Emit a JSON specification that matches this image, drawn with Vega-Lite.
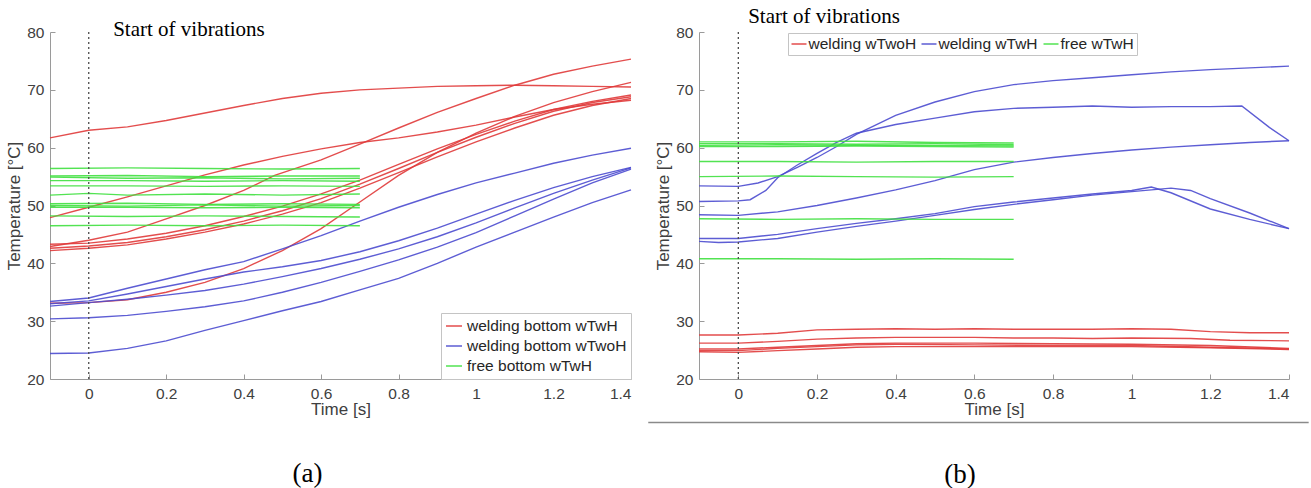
{
  "$schema": "https://vega.github.io/schema/vega-lite/v6.json",
  "background": "white",
  "padding": {"left": 5, "top": 6, "right": 0, "bottom": 0},
  "config": {
    "view": {"stroke": null},
    "font": "Liberation Sans",
    "style": {"guide-title": {"fontSize": 17, "fontWeight": "normal", "font": "Liberation Sans", "fill": "#404040"}, "guide-label": {"fontSize": 15.5, "font": "Liberation Sans", "fill": "#404040"}},
    "axis": {"domainColor": "#9a9a9a", "tickColor": "#9a9a9a", "tickSize": -5, "labelColor": "#404040", "labelFont": "Liberation Sans", "labelFontSize": 15.5, "titleFont": "Liberation Sans", "titleFontSize": 17, "titleFontWeight": "normal", "titleColor": "#404040", "grid": false},
    "axisX": {"labelPadding": 12, "titlePadding": 0},
    "axisY": {"labelPadding": 11, "titlePadding": 3},
    "legend": {"strokeColor": "#c4c4c4", "fillColor": "white", "padding": 4, "labelFont": "Liberation Sans", "labelFontSize": 15.5, "labelColor": "#262626", "labelLimit": 400, "symbolSize": 256, "symbolStrokeWidth": 1.5, "labelOffset": 4, "rowPadding": 2, "columnPadding": 2, "title": null}
  },
  "spacing": 13,
  "resolve": {"scale": {"color": "independent"}, "legend": {"color": "independent"}},
  "datasets": {
    "a": [
      {"s":"r1","g":"welding bottom wTwH","t":-0.1,"v":61.7},{"s":"r1","g":"welding bottom wTwH","t":0,"v":63.0},{"s":"r1","g":"welding bottom wTwH","t":0.1,"v":63.6},{"s":"r1","g":"welding bottom wTwH","t":0.2,"v":64.7},{"s":"r1","g":"welding bottom wTwH","t":0.3,"v":66.0},{"s":"r1","g":"welding bottom wTwH","t":0.4,"v":67.3},{"s":"r1","g":"welding bottom wTwH","t":0.5,"v":68.5},{"s":"r1","g":"welding bottom wTwH","t":0.6,"v":69.4},{"s":"r1","g":"welding bottom wTwH","t":0.7,"v":70.0},{"s":"r1","g":"welding bottom wTwH","t":0.8,"v":70.3},{"s":"r1","g":"welding bottom wTwH","t":0.9,"v":70.6},{"s":"r1","g":"welding bottom wTwH","t":1.0,"v":70.7},{"s":"r1","g":"welding bottom wTwH","t":1.1,"v":70.8},{"s":"r1","g":"welding bottom wTwH","t":1.2,"v":70.7},{"s":"r1","g":"welding bottom wTwH","t":1.3,"v":70.6},{"s":"r1","g":"welding bottom wTwH","t":1.4,"v":70.5},
      {"s":"r2","g":"welding bottom wTwH","t":-0.1,"v":47.9},{"s":"r2","g":"welding bottom wTwH","t":0,"v":49.7},{"s":"r2","g":"welding bottom wTwH","t":0.1,"v":51.5},{"s":"r2","g":"welding bottom wTwH","t":0.2,"v":53.4},{"s":"r2","g":"welding bottom wTwH","t":0.3,"v":55.3},{"s":"r2","g":"welding bottom wTwH","t":0.4,"v":57.0},{"s":"r2","g":"welding bottom wTwH","t":0.5,"v":58.5},{"s":"r2","g":"welding bottom wTwH","t":0.6,"v":59.8},{"s":"r2","g":"welding bottom wTwH","t":0.7,"v":60.9},{"s":"r2","g":"welding bottom wTwH","t":0.8,"v":61.7},{"s":"r2","g":"welding bottom wTwH","t":0.9,"v":62.7},{"s":"r2","g":"welding bottom wTwH","t":1.0,"v":63.9},{"s":"r2","g":"welding bottom wTwH","t":1.1,"v":65.3},{"s":"r2","g":"welding bottom wTwH","t":1.2,"v":66.6},{"s":"r2","g":"welding bottom wTwH","t":1.3,"v":67.5},{"s":"r2","g":"welding bottom wTwH","t":1.4,"v":68.2},
      {"s":"r3","g":"welding bottom wTwH","t":-0.1,"v":42.9},{"s":"r3","g":"welding bottom wTwH","t":0,"v":44.0},{"s":"r3","g":"welding bottom wTwH","t":0.1,"v":45.4},{"s":"r3","g":"welding bottom wTwH","t":0.2,"v":47.7},{"s":"r3","g":"welding bottom wTwH","t":0.3,"v":50.0},{"s":"r3","g":"welding bottom wTwH","t":0.4,"v":52.6},{"s":"r3","g":"welding bottom wTwH","t":0.48,"v":55.2},{"s":"r3","g":"welding bottom wTwH","t":0.6,"v":57.9},{"s":"r3","g":"welding bottom wTwH","t":0.7,"v":60.6},{"s":"r3","g":"welding bottom wTwH","t":0.8,"v":63.4},{"s":"r3","g":"welding bottom wTwH","t":0.9,"v":66.1},{"s":"r3","g":"welding bottom wTwH","t":1.0,"v":68.5},{"s":"r3","g":"welding bottom wTwH","t":1.1,"v":70.8},{"s":"r3","g":"welding bottom wTwH","t":1.2,"v":72.7},{"s":"r3","g":"welding bottom wTwH","t":1.3,"v":74.1},{"s":"r3","g":"welding bottom wTwH","t":1.4,"v":75.3},
      {"s":"r4","g":"welding bottom wTwH","t":-0.1,"v":33.1},{"s":"r4","g":"welding bottom wTwH","t":0,"v":33.2},{"s":"r4","g":"welding bottom wTwH","t":0.1,"v":33.7},{"s":"r4","g":"welding bottom wTwH","t":0.2,"v":35.0},{"s":"r4","g":"welding bottom wTwH","t":0.3,"v":36.7},{"s":"r4","g":"welding bottom wTwH","t":0.4,"v":39.1},{"s":"r4","g":"welding bottom wTwH","t":0.5,"v":42.2},{"s":"r4","g":"welding bottom wTwH","t":0.6,"v":46.0},{"s":"r4","g":"welding bottom wTwH","t":0.7,"v":50.6},{"s":"r4","g":"welding bottom wTwH","t":0.8,"v":55.2},{"s":"r4","g":"welding bottom wTwH","t":0.9,"v":59.2},{"s":"r4","g":"welding bottom wTwH","t":1.0,"v":62.5},{"s":"r4","g":"welding bottom wTwH","t":1.1,"v":65.4},{"s":"r4","g":"welding bottom wTwH","t":1.2,"v":67.8},{"s":"r4","g":"welding bottom wTwH","t":1.3,"v":69.7},{"s":"r4","g":"welding bottom wTwH","t":1.4,"v":71.3},
      {"s":"r5","g":"welding bottom wTwH","t":-0.1,"v":43.3},{"s":"r5","g":"welding bottom wTwH","t":0,"v":43.5},{"s":"r5","g":"welding bottom wTwH","t":0.1,"v":44.2},{"s":"r5","g":"welding bottom wTwH","t":0.2,"v":45.2},{"s":"r5","g":"welding bottom wTwH","t":0.3,"v":46.5},{"s":"r5","g":"welding bottom wTwH","t":0.4,"v":48.1},{"s":"r5","g":"welding bottom wTwH","t":0.5,"v":49.9},{"s":"r5","g":"welding bottom wTwH","t":0.6,"v":52.0},{"s":"r5","g":"welding bottom wTwH","t":0.7,"v":54.4},{"s":"r5","g":"welding bottom wTwH","t":0.8,"v":57.1},{"s":"r5","g":"welding bottom wTwH","t":0.9,"v":59.8},{"s":"r5","g":"welding bottom wTwH","t":1.0,"v":62.3},{"s":"r5","g":"welding bottom wTwH","t":1.1,"v":64.6},{"s":"r5","g":"welding bottom wTwH","t":1.2,"v":66.6},{"s":"r5","g":"welding bottom wTwH","t":1.3,"v":68.0},{"s":"r5","g":"welding bottom wTwH","t":1.4,"v":69.1},
      {"s":"r6","g":"welding bottom wTwH","t":-0.1,"v":42.6},{"s":"r6","g":"welding bottom wTwH","t":0,"v":43.0},{"s":"r6","g":"welding bottom wTwH","t":0.1,"v":43.6},{"s":"r6","g":"welding bottom wTwH","t":0.2,"v":44.6},{"s":"r6","g":"welding bottom wTwH","t":0.3,"v":45.8},{"s":"r6","g":"welding bottom wTwH","t":0.4,"v":47.3},{"s":"r6","g":"welding bottom wTwH","t":0.5,"v":49.1},{"s":"r6","g":"welding bottom wTwH","t":0.6,"v":51.2},{"s":"r6","g":"welding bottom wTwH","t":0.7,"v":53.7},{"s":"r6","g":"welding bottom wTwH","t":0.8,"v":56.4},{"s":"r6","g":"welding bottom wTwH","t":0.9,"v":59.2},{"s":"r6","g":"welding bottom wTwH","t":1.0,"v":61.8},{"s":"r6","g":"welding bottom wTwH","t":1.1,"v":64.2},{"s":"r6","g":"welding bottom wTwH","t":1.2,"v":66.3},{"s":"r6","g":"welding bottom wTwH","t":1.3,"v":67.8},{"s":"r6","g":"welding bottom wTwH","t":1.4,"v":68.8},
      {"s":"r7","g":"welding bottom wTwH","t":-0.1,"v":42.2},{"s":"r7","g":"welding bottom wTwH","t":0,"v":42.6},{"s":"r7","g":"welding bottom wTwH","t":0.1,"v":43.2},{"s":"r7","g":"welding bottom wTwH","t":0.2,"v":44.2},{"s":"r7","g":"welding bottom wTwH","t":0.3,"v":45.4},{"s":"r7","g":"welding bottom wTwH","t":0.4,"v":46.8},{"s":"r7","g":"welding bottom wTwH","t":0.5,"v":48.5},{"s":"r7","g":"welding bottom wTwH","t":0.6,"v":50.5},{"s":"r7","g":"welding bottom wTwH","t":0.7,"v":53.0},{"s":"r7","g":"welding bottom wTwH","t":0.8,"v":55.7},{"s":"r7","g":"welding bottom wTwH","t":0.9,"v":58.4},{"s":"r7","g":"welding bottom wTwH","t":1.0,"v":61.0},{"s":"r7","g":"welding bottom wTwH","t":1.1,"v":63.4},{"s":"r7","g":"welding bottom wTwH","t":1.2,"v":65.6},{"s":"r7","g":"welding bottom wTwH","t":1.3,"v":67.3},{"s":"r7","g":"welding bottom wTwH","t":1.4,"v":68.5},
      {"s":"b1","g":"welding bottom wTwoH","t":-0.1,"v":33.4},{"s":"b1","g":"welding bottom wTwoH","t":0,"v":34.0},{"s":"b1","g":"welding bottom wTwoH","t":0.1,"v":35.7},{"s":"b1","g":"welding bottom wTwoH","t":0.2,"v":37.3},{"s":"b1","g":"welding bottom wTwoH","t":0.3,"v":38.9},{"s":"b1","g":"welding bottom wTwoH","t":0.4,"v":40.3},{"s":"b1","g":"welding bottom wTwoH","t":0.5,"v":42.5},{"s":"b1","g":"welding bottom wTwoH","t":0.6,"v":44.8},{"s":"b1","g":"welding bottom wTwoH","t":0.7,"v":47.3},{"s":"b1","g":"welding bottom wTwoH","t":0.8,"v":49.7},{"s":"b1","g":"welding bottom wTwoH","t":0.9,"v":51.9},{"s":"b1","g":"welding bottom wTwoH","t":1.0,"v":53.9},{"s":"b1","g":"welding bottom wTwoH","t":1.1,"v":55.6},{"s":"b1","g":"welding bottom wTwoH","t":1.2,"v":57.3},{"s":"b1","g":"welding bottom wTwoH","t":1.3,"v":58.7},{"s":"b1","g":"welding bottom wTwoH","t":1.4,"v":59.9},
      {"s":"b2","g":"welding bottom wTwoH","t":-0.1,"v":33.0},{"s":"b2","g":"welding bottom wTwoH","t":0,"v":33.5},{"s":"b2","g":"welding bottom wTwoH","t":0.1,"v":34.7},{"s":"b2","g":"welding bottom wTwoH","t":0.2,"v":36.0},{"s":"b2","g":"welding bottom wTwoH","t":0.3,"v":37.3},{"s":"b2","g":"welding bottom wTwoH","t":0.4,"v":38.5},{"s":"b2","g":"welding bottom wTwoH","t":0.5,"v":39.4},{"s":"b2","g":"welding bottom wTwoH","t":0.6,"v":40.5},{"s":"b2","g":"welding bottom wTwoH","t":0.7,"v":42.0},{"s":"b2","g":"welding bottom wTwoH","t":0.8,"v":43.9},{"s":"b2","g":"welding bottom wTwoH","t":0.9,"v":46.1},{"s":"b2","g":"welding bottom wTwoH","t":1.0,"v":48.5},{"s":"b2","g":"welding bottom wTwoH","t":1.1,"v":50.9},{"s":"b2","g":"welding bottom wTwoH","t":1.2,"v":53.1},{"s":"b2","g":"welding bottom wTwoH","t":1.3,"v":55.0},{"s":"b2","g":"welding bottom wTwoH","t":1.4,"v":56.6},
      {"s":"b3","g":"welding bottom wTwoH","t":-0.1,"v":32.6},{"s":"b3","g":"welding bottom wTwoH","t":0,"v":33.2},{"s":"b3","g":"welding bottom wTwoH","t":0.1,"v":33.8},{"s":"b3","g":"welding bottom wTwoH","t":0.2,"v":34.5},{"s":"b3","g":"welding bottom wTwoH","t":0.3,"v":35.3},{"s":"b3","g":"welding bottom wTwoH","t":0.4,"v":36.4},{"s":"b3","g":"welding bottom wTwoH","t":0.5,"v":37.7},{"s":"b3","g":"welding bottom wTwoH","t":0.6,"v":39.1},{"s":"b3","g":"welding bottom wTwoH","t":0.7,"v":40.7},{"s":"b3","g":"welding bottom wTwoH","t":0.8,"v":42.5},{"s":"b3","g":"welding bottom wTwoH","t":0.9,"v":44.6},{"s":"b3","g":"welding bottom wTwoH","t":1.0,"v":47.0},{"s":"b3","g":"welding bottom wTwoH","t":1.1,"v":49.6},{"s":"b3","g":"welding bottom wTwoH","t":1.2,"v":52.1},{"s":"b3","g":"welding bottom wTwoH","t":1.3,"v":54.4},{"s":"b3","g":"welding bottom wTwoH","t":1.4,"v":56.5},
      {"s":"b4","g":"welding bottom wTwoH","t":-0.1,"v":30.4},{"s":"b4","g":"welding bottom wTwoH","t":0,"v":30.6},{"s":"b4","g":"welding bottom wTwoH","t":0.1,"v":31.0},{"s":"b4","g":"welding bottom wTwoH","t":0.2,"v":31.7},{"s":"b4","g":"welding bottom wTwoH","t":0.3,"v":32.5},{"s":"b4","g":"welding bottom wTwoH","t":0.4,"v":33.5},{"s":"b4","g":"welding bottom wTwoH","t":0.5,"v":35.0},{"s":"b4","g":"welding bottom wTwoH","t":0.6,"v":36.7},{"s":"b4","g":"welding bottom wTwoH","t":0.7,"v":38.6},{"s":"b4","g":"welding bottom wTwoH","t":0.8,"v":40.6},{"s":"b4","g":"welding bottom wTwoH","t":0.9,"v":42.8},{"s":"b4","g":"welding bottom wTwoH","t":1.0,"v":45.3},{"s":"b4","g":"welding bottom wTwoH","t":1.1,"v":48.2},{"s":"b4","g":"welding bottom wTwoH","t":1.2,"v":51.1},{"s":"b4","g":"welding bottom wTwoH","t":1.3,"v":53.9},{"s":"b4","g":"welding bottom wTwoH","t":1.4,"v":56.3},
      {"s":"b5","g":"welding bottom wTwoH","t":-0.1,"v":24.4},{"s":"b5","g":"welding bottom wTwoH","t":0,"v":24.5},{"s":"b5","g":"welding bottom wTwoH","t":0.1,"v":25.3},{"s":"b5","g":"welding bottom wTwoH","t":0.2,"v":26.6},{"s":"b5","g":"welding bottom wTwoH","t":0.3,"v":28.4},{"s":"b5","g":"welding bottom wTwoH","t":0.4,"v":30.1},{"s":"b5","g":"welding bottom wTwoH","t":0.5,"v":31.8},{"s":"b5","g":"welding bottom wTwoH","t":0.6,"v":33.4},{"s":"b5","g":"welding bottom wTwoH","t":0.7,"v":35.4},{"s":"b5","g":"welding bottom wTwoH","t":0.8,"v":37.4},{"s":"b5","g":"welding bottom wTwoH","t":0.9,"v":40.0},{"s":"b5","g":"welding bottom wTwoH","t":1.0,"v":42.8},{"s":"b5","g":"welding bottom wTwoH","t":1.1,"v":45.4},{"s":"b5","g":"welding bottom wTwoH","t":1.2,"v":48.0},{"s":"b5","g":"welding bottom wTwoH","t":1.3,"v":50.5},{"s":"b5","g":"welding bottom wTwoH","t":1.4,"v":52.7},
      {"s":"g1","g":"free bottom wTwH","t":-0.1,"v":56.4},{"s":"g1","g":"free bottom wTwH","t":0.1,"v":56.5},{"s":"g1","g":"free bottom wTwH","t":0.3,"v":56.4},{"s":"g1","g":"free bottom wTwH","t":0.5,"v":56.3},{"s":"g1","g":"free bottom wTwH","t":0.7,"v":56.4},
      {"s":"g2","g":"free bottom wTwH","t":-0.1,"v":55.1},{"s":"g2","g":"free bottom wTwH","t":0.1,"v":55.2},{"s":"g2","g":"free bottom wTwH","t":0.3,"v":55.0},{"s":"g2","g":"free bottom wTwH","t":0.5,"v":55.1},{"s":"g2","g":"free bottom wTwH","t":0.7,"v":55.1},
      {"s":"g3","g":"free bottom wTwH","t":-0.1,"v":54.9},{"s":"g3","g":"free bottom wTwH","t":0.1,"v":54.7},{"s":"g3","g":"free bottom wTwH","t":0.3,"v":54.8},{"s":"g3","g":"free bottom wTwH","t":0.5,"v":54.6},{"s":"g3","g":"free bottom wTwH","t":0.7,"v":54.7},
      {"s":"g4","g":"free bottom wTwH","t":-0.1,"v":54.3},{"s":"g4","g":"free bottom wTwH","t":0.1,"v":54.3},{"s":"g4","g":"free bottom wTwH","t":0.3,"v":54.2},{"s":"g4","g":"free bottom wTwH","t":0.5,"v":54.3},{"s":"g4","g":"free bottom wTwH","t":0.7,"v":54.2},
      {"s":"g5","g":"free bottom wTwH","t":-0.1,"v":53.4},{"s":"g5","g":"free bottom wTwH","t":0.1,"v":53.4},{"s":"g5","g":"free bottom wTwH","t":0.3,"v":53.3},{"s":"g5","g":"free bottom wTwH","t":0.5,"v":53.4},{"s":"g5","g":"free bottom wTwH","t":0.7,"v":53.3},
      {"s":"g6","g":"free bottom wTwH","t":-0.1,"v":51.8},{"s":"g6","g":"free bottom wTwH","t":0.0,"v":52.1},{"s":"g6","g":"free bottom wTwH","t":0.1,"v":51.8},{"s":"g6","g":"free bottom wTwH","t":0.3,"v":52.0},{"s":"g6","g":"free bottom wTwH","t":0.5,"v":51.8},{"s":"g6","g":"free bottom wTwH","t":0.7,"v":52.0},
      {"s":"g7","g":"free bottom wTwH","t":-0.1,"v":50.3},{"s":"g7","g":"free bottom wTwH","t":0.1,"v":50.4},{"s":"g7","g":"free bottom wTwH","t":0.3,"v":50.2},{"s":"g7","g":"free bottom wTwH","t":0.5,"v":50.3},{"s":"g7","g":"free bottom wTwH","t":0.7,"v":50.2},
      {"s":"g8","g":"free bottom wTwH","t":-0.1,"v":50.0},{"s":"g8","g":"free bottom wTwH","t":0.1,"v":49.9},{"s":"g8","g":"free bottom wTwH","t":0.3,"v":50.1},{"s":"g8","g":"free bottom wTwH","t":0.5,"v":49.9},{"s":"g8","g":"free bottom wTwH","t":0.7,"v":50.0},
      {"s":"g9","g":"free bottom wTwH","t":-0.1,"v":49.7},{"s":"g9","g":"free bottom wTwH","t":0.1,"v":49.7},{"s":"g9","g":"free bottom wTwH","t":0.3,"v":49.6},{"s":"g9","g":"free bottom wTwH","t":0.5,"v":49.7},{"s":"g9","g":"free bottom wTwH","t":0.7,"v":49.6},
      {"s":"g10","g":"free bottom wTwH","t":-0.1,"v":48.2},{"s":"g10","g":"free bottom wTwH","t":0.1,"v":48.1},{"s":"g10","g":"free bottom wTwH","t":0.3,"v":48.2},{"s":"g10","g":"free bottom wTwH","t":0.5,"v":48.1},{"s":"g10","g":"free bottom wTwH","t":0.7,"v":48.0},
      {"s":"g11","g":"free bottom wTwH","t":-0.1,"v":46.5},{"s":"g11","g":"free bottom wTwH","t":0.1,"v":46.6},{"s":"g11","g":"free bottom wTwH","t":0.3,"v":46.5},{"s":"g11","g":"free bottom wTwH","t":0.5,"v":46.6},{"s":"g11","g":"free bottom wTwH","t":0.7,"v":46.5}
    ],
    "b": [
      {"s":"r1","g":"welding wTwoH","t":-0.1,"v":27.6},{"s":"r1","g":"welding wTwoH","t":0,"v":27.6},{"s":"r1","g":"welding wTwoH","t":0.1,"v":27.9},{"s":"r1","g":"welding wTwoH","t":0.2,"v":28.5},{"s":"r1","g":"welding wTwoH","t":0.3,"v":28.6},{"s":"r1","g":"welding wTwoH","t":0.4,"v":28.7},{"s":"r1","g":"welding wTwoH","t":0.5,"v":28.6},{"s":"r1","g":"welding wTwoH","t":0.6,"v":28.7},{"s":"r1","g":"welding wTwoH","t":0.7,"v":28.6},{"s":"r1","g":"welding wTwoH","t":0.8,"v":28.6},{"s":"r1","g":"welding wTwoH","t":0.9,"v":28.6},{"s":"r1","g":"welding wTwoH","t":1.0,"v":28.7},{"s":"r1","g":"welding wTwoH","t":1.1,"v":28.6},{"s":"r1","g":"welding wTwoH","t":1.2,"v":28.2},{"s":"r1","g":"welding wTwoH","t":1.3,"v":28.0},{"s":"r1","g":"welding wTwoH","t":1.4,"v":28.0},
      {"s":"r2","g":"welding wTwoH","t":-0.1,"v":26.2},{"s":"r2","g":"welding wTwoH","t":0,"v":26.2},{"s":"r2","g":"welding wTwoH","t":0.1,"v":26.5},{"s":"r2","g":"welding wTwoH","t":0.2,"v":26.9},{"s":"r2","g":"welding wTwoH","t":0.3,"v":27.1},{"s":"r2","g":"welding wTwoH","t":0.4,"v":27.2},{"s":"r2","g":"welding wTwoH","t":0.5,"v":27.2},{"s":"r2","g":"welding wTwoH","t":0.6,"v":27.2},{"s":"r2","g":"welding wTwoH","t":0.7,"v":27.1},{"s":"r2","g":"welding wTwoH","t":0.8,"v":27.1},{"s":"r2","g":"welding wTwoH","t":0.9,"v":27.0},{"s":"r2","g":"welding wTwoH","t":1.0,"v":27.1},{"s":"r2","g":"welding wTwoH","t":1.15,"v":27.0},{"s":"r2","g":"welding wTwoH","t":1.25,"v":26.7},{"s":"r2","g":"welding wTwoH","t":1.4,"v":26.6},
      {"s":"r3","g":"welding wTwoH","t":-0.1,"v":25.2},{"s":"r3","g":"welding wTwoH","t":0,"v":25.2},{"s":"r3","g":"welding wTwoH","t":0.1,"v":25.5},{"s":"r3","g":"welding wTwoH","t":0.2,"v":25.8},{"s":"r3","g":"welding wTwoH","t":0.3,"v":26.1},{"s":"r3","g":"welding wTwoH","t":0.4,"v":26.2},{"s":"r3","g":"welding wTwoH","t":0.6,"v":26.2},{"s":"r3","g":"welding wTwoH","t":0.8,"v":26.1},{"s":"r3","g":"welding wTwoH","t":1.0,"v":26.0},{"s":"r3","g":"welding wTwoH","t":1.2,"v":25.8},{"s":"r3","g":"welding wTwoH","t":1.4,"v":25.3},
      {"s":"r4","g":"welding wTwoH","t":-0.1,"v":24.9},{"s":"r4","g":"welding wTwoH","t":0,"v":24.9},{"s":"r4","g":"welding wTwoH","t":0.1,"v":25.3},{"s":"r4","g":"welding wTwoH","t":0.2,"v":25.6},{"s":"r4","g":"welding wTwoH","t":0.3,"v":25.9},{"s":"r4","g":"welding wTwoH","t":0.4,"v":26.0},{"s":"r4","g":"welding wTwoH","t":0.6,"v":25.9},{"s":"r4","g":"welding wTwoH","t":0.8,"v":25.8},{"s":"r4","g":"welding wTwoH","t":1.0,"v":25.8},{"s":"r4","g":"welding wTwoH","t":1.2,"v":25.5},{"s":"r4","g":"welding wTwoH","t":1.4,"v":25.2},
      {"s":"r5","g":"welding wTwoH","t":-0.1,"v":24.7},{"s":"r5","g":"welding wTwoH","t":0,"v":24.6},{"s":"r5","g":"welding wTwoH","t":0.1,"v":24.9},{"s":"r5","g":"welding wTwoH","t":0.2,"v":25.2},{"s":"r5","g":"welding wTwoH","t":0.3,"v":25.5},{"s":"r5","g":"welding wTwoH","t":0.4,"v":25.6},{"s":"r5","g":"welding wTwoH","t":0.6,"v":25.6},{"s":"r5","g":"welding wTwoH","t":0.8,"v":25.6},{"s":"r5","g":"welding wTwoH","t":1.0,"v":25.6},{"s":"r5","g":"welding wTwoH","t":1.2,"v":25.4},{"s":"r5","g":"welding wTwoH","t":1.4,"v":25.1},
      {"s":"b1","g":"welding wTwH","t":-0.1,"v":53.4},{"s":"b1","g":"welding wTwH","t":0,"v":53.3},{"s":"b1","g":"welding wTwH","t":0.05,"v":53.9},{"s":"b1","g":"welding wTwH","t":0.1,"v":55.0},{"s":"b1","g":"welding wTwH","t":0.15,"v":56.6},{"s":"b1","g":"welding wTwH","t":0.2,"v":58.3},{"s":"b1","g":"welding wTwH","t":0.25,"v":60.2},{"s":"b1","g":"welding wTwH","t":0.3,"v":62.3},{"s":"b1","g":"welding wTwH","t":0.4,"v":65.6},{"s":"b1","g":"welding wTwH","t":0.5,"v":67.9},{"s":"b1","g":"welding wTwH","t":0.6,"v":69.7},{"s":"b1","g":"welding wTwH","t":0.7,"v":70.9},{"s":"b1","g":"welding wTwH","t":0.8,"v":71.6},{"s":"b1","g":"welding wTwH","t":0.9,"v":72.1},{"s":"b1","g":"welding wTwH","t":1.0,"v":72.6},{"s":"b1","g":"welding wTwH","t":1.1,"v":73.1},{"s":"b1","g":"welding wTwH","t":1.2,"v":73.5},{"s":"b1","g":"welding wTwH","t":1.3,"v":73.8},{"s":"b1","g":"welding wTwH","t":1.4,"v":74.1},
      {"s":"b2","g":"welding wTwH","t":-0.1,"v":50.7},{"s":"b2","g":"welding wTwH","t":0,"v":50.8},{"s":"b2","g":"welding wTwH","t":0.03,"v":51.0},{"s":"b2","g":"welding wTwH","t":0.07,"v":52.6},{"s":"b2","g":"welding wTwH","t":0.1,"v":54.8},{"s":"b2","g":"welding wTwH","t":0.15,"v":57.0},{"s":"b2","g":"welding wTwH","t":0.2,"v":59.0},{"s":"b2","g":"welding wTwH","t":0.25,"v":60.9},{"s":"b2","g":"welding wTwH","t":0.3,"v":62.5},{"s":"b2","g":"welding wTwH","t":0.4,"v":64.0},{"s":"b2","g":"welding wTwH","t":0.5,"v":65.1},{"s":"b2","g":"welding wTwH","t":0.6,"v":66.2},{"s":"b2","g":"welding wTwH","t":0.7,"v":66.8},{"s":"b2","g":"welding wTwH","t":0.8,"v":67.0},{"s":"b2","g":"welding wTwH","t":0.9,"v":67.2},{"s":"b2","g":"welding wTwH","t":1.0,"v":67.0},{"s":"b2","g":"welding wTwH","t":1.1,"v":67.1},{"s":"b2","g":"welding wTwH","t":1.2,"v":67.1},{"s":"b2","g":"welding wTwH","t":1.28,"v":67.2},{"s":"b2","g":"welding wTwH","t":1.35,"v":63.5},{"s":"b2","g":"welding wTwH","t":1.4,"v":61.2},
      {"s":"b3","g":"welding wTwH","t":-0.1,"v":48.4},{"s":"b3","g":"welding wTwH","t":0,"v":48.3},{"s":"b3","g":"welding wTwH","t":0.1,"v":48.9},{"s":"b3","g":"welding wTwH","t":0.2,"v":50.0},{"s":"b3","g":"welding wTwH","t":0.3,"v":51.3},{"s":"b3","g":"welding wTwH","t":0.4,"v":52.7},{"s":"b3","g":"welding wTwH","t":0.5,"v":54.3},{"s":"b3","g":"welding wTwH","t":0.6,"v":56.2},{"s":"b3","g":"welding wTwH","t":0.7,"v":57.5},{"s":"b3","g":"welding wTwH","t":0.8,"v":58.3},{"s":"b3","g":"welding wTwH","t":0.9,"v":59.0},{"s":"b3","g":"welding wTwH","t":1.0,"v":59.6},{"s":"b3","g":"welding wTwH","t":1.1,"v":60.1},{"s":"b3","g":"welding wTwH","t":1.2,"v":60.5},{"s":"b3","g":"welding wTwH","t":1.3,"v":60.9},{"s":"b3","g":"welding wTwH","t":1.4,"v":61.2},
      {"s":"b4","g":"welding wTwH","t":-0.1,"v":44.3},{"s":"b4","g":"welding wTwH","t":0,"v":44.3},{"s":"b4","g":"welding wTwH","t":0.1,"v":45.0},{"s":"b4","g":"welding wTwH","t":0.2,"v":46.0},{"s":"b4","g":"welding wTwH","t":0.3,"v":46.9},{"s":"b4","g":"welding wTwH","t":0.4,"v":47.7},{"s":"b4","g":"welding wTwH","t":0.5,"v":48.6},{"s":"b4","g":"welding wTwH","t":0.6,"v":49.8},{"s":"b4","g":"welding wTwH","t":0.7,"v":50.6},{"s":"b4","g":"welding wTwH","t":0.8,"v":51.3},{"s":"b4","g":"welding wTwH","t":0.9,"v":52.0},{"s":"b4","g":"welding wTwH","t":1.0,"v":52.6},{"s":"b4","g":"welding wTwH","t":1.05,"v":53.2},{"s":"b4","g":"welding wTwH","t":1.1,"v":52.2},{"s":"b4","g":"welding wTwH","t":1.2,"v":49.4},{"s":"b4","g":"welding wTwH","t":1.3,"v":47.6},{"s":"b4","g":"welding wTwH","t":1.4,"v":46.0},
      {"s":"b5","g":"welding wTwH","t":-0.1,"v":43.8},{"s":"b5","g":"welding wTwH","t":-0.05,"v":43.6},{"s":"b5","g":"welding wTwH","t":0,"v":43.7},{"s":"b5","g":"welding wTwH","t":0.1,"v":44.3},{"s":"b5","g":"welding wTwH","t":0.2,"v":45.4},{"s":"b5","g":"welding wTwH","t":0.3,"v":46.4},{"s":"b5","g":"welding wTwH","t":0.4,"v":47.3},{"s":"b5","g":"welding wTwH","t":0.5,"v":48.3},{"s":"b5","g":"welding wTwH","t":0.6,"v":49.3},{"s":"b5","g":"welding wTwH","t":0.7,"v":50.2},{"s":"b5","g":"welding wTwH","t":0.8,"v":51.0},{"s":"b5","g":"welding wTwH","t":0.9,"v":51.8},{"s":"b5","g":"welding wTwH","t":1.0,"v":52.4},{"s":"b5","g":"welding wTwH","t":1.1,"v":53.0},{"s":"b5","g":"welding wTwH","t":1.15,"v":52.6},{"s":"b5","g":"welding wTwH","t":1.2,"v":51.2},{"s":"b5","g":"welding wTwH","t":1.3,"v":48.7},{"s":"b5","g":"welding wTwH","t":1.4,"v":46.0},
      {"s":"g1","g":"free wTwH","t":-0.1,"v":61.0},{"s":"g1","g":"free wTwH","t":0.1,"v":61.0},{"s":"g1","g":"free wTwH","t":0.3,"v":61.1},{"s":"g1","g":"free wTwH","t":0.5,"v":60.9},{"s":"g1","g":"free wTwH","t":0.7,"v":60.8},
      {"s":"g2","g":"free wTwH","t":-0.1,"v":60.7},{"s":"g2","g":"free wTwH","t":0.1,"v":60.7},{"s":"g2","g":"free wTwH","t":0.3,"v":60.6},{"s":"g2","g":"free wTwH","t":0.5,"v":60.7},{"s":"g2","g":"free wTwH","t":0.7,"v":60.5},
      {"s":"g3","g":"free wTwH","t":-0.1,"v":60.4},{"s":"g3","g":"free wTwH","t":0.1,"v":60.5},{"s":"g3","g":"free wTwH","t":0.3,"v":60.4},{"s":"g3","g":"free wTwH","t":0.5,"v":60.4},{"s":"g3","g":"free wTwH","t":0.7,"v":60.3},
      {"s":"g4","g":"free wTwH","t":-0.1,"v":60.2},{"s":"g4","g":"free wTwH","t":0.1,"v":60.2},{"s":"g4","g":"free wTwH","t":0.3,"v":60.3},{"s":"g4","g":"free wTwH","t":0.5,"v":60.2},{"s":"g4","g":"free wTwH","t":0.7,"v":60.1},
      {"s":"g5","g":"free wTwH","t":-0.1,"v":57.6},{"s":"g5","g":"free wTwH","t":0.1,"v":57.6},{"s":"g5","g":"free wTwH","t":0.3,"v":57.5},{"s":"g5","g":"free wTwH","t":0.5,"v":57.6},{"s":"g5","g":"free wTwH","t":0.7,"v":57.6},
      {"s":"g6","g":"free wTwH","t":-0.1,"v":55.0},{"s":"g6","g":"free wTwH","t":0.1,"v":55.1},{"s":"g6","g":"free wTwH","t":0.3,"v":55.0},{"s":"g6","g":"free wTwH","t":0.5,"v":54.9},{"s":"g6","g":"free wTwH","t":0.7,"v":55.0},
      {"s":"g7","g":"free wTwH","t":-0.1,"v":47.7},{"s":"g7","g":"free wTwH","t":0.1,"v":47.6},{"s":"g7","g":"free wTwH","t":0.3,"v":47.7},{"s":"g7","g":"free wTwH","t":0.5,"v":47.6},{"s":"g7","g":"free wTwH","t":0.7,"v":47.6},
      {"s":"g8","g":"free wTwH","t":-0.1,"v":40.8},{"s":"g8","g":"free wTwH","t":0.1,"v":40.8},{"s":"g8","g":"free wTwH","t":0.3,"v":40.7},{"s":"g8","g":"free wTwH","t":0.5,"v":40.8},{"s":"g8","g":"free wTwH","t":0.7,"v":40.7}
    ],
    "start": [{"t": 0}],
    "noteA": [{"t": 0.063, "v": 79.3, "label": "Start of vibrations"}],
    "noteB": [{"t": 0.025, "v": 81.5, "label": "Start of vibrations"}],
    "frameB": [{"t": -0.229, "t2": 1.45, "v": 12.5}]
  },
  "hconcat": [
    {
      "width": 581,
      "height": 347,
      "title": {"text": "(a)", "orient": "bottom", "font": "Liberation Serif", "fontSize": 27, "fontWeight": "normal", "color": "black", "offset": 43, "dx": -33},
      "layer": [
        {
          "data": {"name": "a"},
          "mark": {"type": "line", "strokeWidth": 1.4, "opacity": 0.9},
          "encoding": {
            "x": {"field": "t", "type": "quantitative", "title": "Time [s]", "scale": {"domain": [-0.1, 1.4], "nice": false, "zero": false}, "axis": {"values": [0, 0.2, 0.4, 0.6, 0.8, 1, 1.2, 1.4], "format": "~g", "labelFontSize": 15.5, "titleFontSize": 17}},
            "y": {"field": "v", "type": "quantitative", "title": "Temperature [°C]", "scale": {"domain": [20, 80], "nice": false, "zero": false}, "axis": {"values": [20, 30, 40, 50, 60, 70, 80], "labelFontSize": 15.5, "titleFontSize": 17}},
            "color": {"field": "g", "type": "nominal", "scale": {"domain": ["welding bottom wTwH", "welding bottom wTwoH", "free bottom wTwH"], "range": ["#e03a3a", "#4b4bcf", "#3fe03f"]}, "legend": {"orient": "bottom-right", "offset": 0, "direction": "vertical"}},
            "detail": {"field": "s"}
          }
        },
        {
          "data": {"name": "start"},
          "mark": {"type": "rule", "strokeDash": [2, 3], "color": "#4d4d4d", "strokeWidth": 1.3},
          "encoding": {"x": {"field": "t", "type": "quantitative"}}
        },
        {
          "data": {"name": "noteA"},
          "mark": {"type": "text", "align": "left", "baseline": "alphabetic", "font": "Liberation Serif", "fontSize": 21, "color": "black"},
          "encoding": {"x": {"field": "t", "type": "quantitative"}, "y": {"field": "v", "type": "quantitative"}, "text": {"field": "label"}}
        }
      ]
    },
    {
      "width": 590,
      "height": 347,
      "title": {"text": "(b)", "orient": "bottom", "font": "Liberation Serif", "fontSize": 27, "fontWeight": "normal", "color": "black", "offset": 39, "dx": -34},
      "layer": [
        {
          "data": {"name": "b"},
          "mark": {"type": "line", "strokeWidth": 1.4, "opacity": 0.9},
          "encoding": {
            "x": {"field": "t", "type": "quantitative", "title": "Time [s]", "scale": {"domain": [-0.1, 1.4], "nice": false, "zero": false}, "axis": {"values": [0, 0.2, 0.4, 0.6, 0.8, 1, 1.2, 1.4], "format": "~g", "labelFontSize": 15.5, "titleFontSize": 17}},
            "y": {"field": "v", "type": "quantitative", "title": "Temperature [°C]", "scale": {"domain": [20, 80], "nice": false, "zero": false}, "axis": {"values": [20, 30, 40, 50, 60, 70, 80], "labelFontSize": 15.5, "titleFontSize": 17}},
            "color": {"field": "g", "type": "nominal", "scale": {"domain": ["welding wTwoH", "welding wTwH", "free wTwH"], "range": ["#e03a3a", "#4b4bcf", "#3fe03f"]}, "legend": {"orient": "none", "legendX": 89, "legendY": 1, "direction": "horizontal", "padding": 2.5, "labelOffset": 1, "symbolSize": 225, "columnPadding": 2}},
            "detail": {"field": "s"}
          }
        },
        {
          "data": {"name": "start"},
          "mark": {"type": "rule", "strokeDash": [2, 3], "color": "#4d4d4d", "strokeWidth": 1.3},
          "encoding": {"x": {"field": "t", "type": "quantitative"}}
        },
        {
          "data": {"name": "noteB"},
          "mark": {"type": "text", "align": "left", "baseline": "alphabetic", "font": "Liberation Serif", "fontSize": 21, "color": "black"},
          "encoding": {"x": {"field": "t", "type": "quantitative"}, "y": {"field": "v", "type": "quantitative"}, "text": {"field": "label"}}
        },
        {
          "data": {"name": "frameB"},
          "mark": {"type": "rule", "color": "#8a8a8a", "strokeWidth": 1.5},
          "encoding": {"x": {"field": "t", "type": "quantitative"}, "x2": {"field": "t2"}, "y": {"field": "v", "type": "quantitative"}}
        }
      ]
    }
  ]
}
